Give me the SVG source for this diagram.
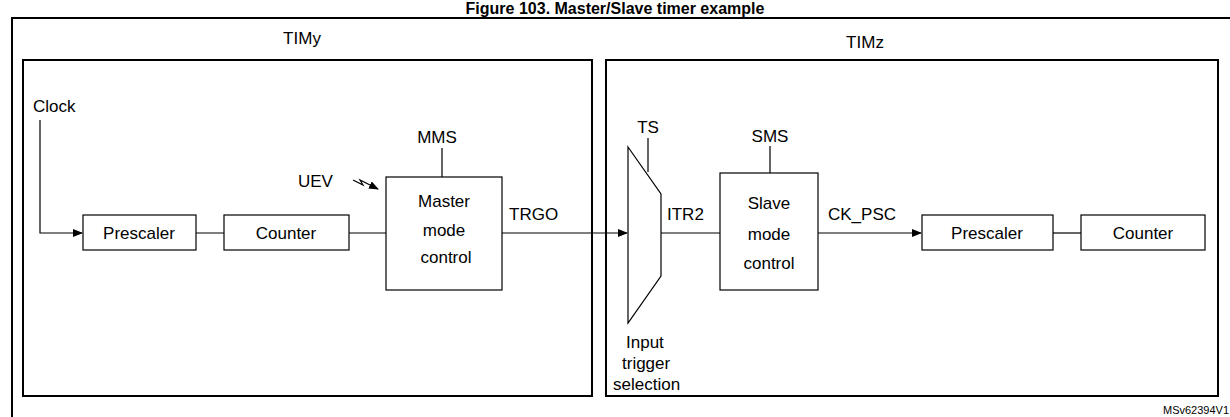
<svg xmlns="http://www.w3.org/2000/svg" width="1230" height="417" viewBox="0 0 1230 417">
<style>
text{font-family:"Liberation Sans",Arial,sans-serif;font-size:17px;fill:#000}
.b{fill:#fff;stroke:#000;stroke-width:1.2}
.f{fill:none;stroke:#000;stroke-width:2}
.l{fill:none;stroke:#000;stroke-width:1.2}
</style>
<defs><marker id="a" markerWidth="10" markerHeight="8" refX="9" refY="4" orient="auto" markerUnits="userSpaceOnUse"><path d="M0,0L10,4L0,8z"/></marker></defs>
<rect width="1230" height="417" fill="#fff"/>
<text x="615" y="14" text-anchor="middle" font-weight="bold" style="font-size:16px">Figure 103. Master/Slave timer example</text>
<rect class="f" x="12" y="18" width="1230" height="420"/>
<g id="timy"><rect class="f" x="23" y="60" width="569" height="336"/><text x="302" y="44" text-anchor="middle">TIMy</text></g>
<g id="timz"><rect class="f" x="606" y="60" width="612" height="336"/><text x="865" y="48" text-anchor="middle">TIMz</text></g>
<g id="connectors">
<path class="l" d="M40,120V233H82" marker-end="url(#a)"/>
<path class="l" d="M196,233H224M349,233H386M442,148V177M502,233H627" marker-end="url(#a)"/>
<path class="l" d="M648,138V172M661,233H720M770,146V173"/>
<path class="l" d="M818,233H921" marker-end="url(#a)"/>
<path class="l" d="M1053,233H1081"/>
<path class="l" d="M353,180l10,5l-3,-5l18,9" marker-end="url(#a)"/>
</g>
<g id="clock"><text x="33" y="112">Clock</text></g>
<g id="prescaler1"><rect class="b" x="83" y="215" width="113" height="35"/><text x="139" y="239" text-anchor="middle">Prescaler</text></g>
<g id="counter1"><rect class="b" x="224" y="215" width="125" height="35"/><text x="286" y="239" text-anchor="middle">Counter</text></g>
<g id="uev"><text x="298" y="187">UEV</text></g>
<g id="mms"><text x="437" y="143" text-anchor="middle">MMS</text></g>
<g id="master"><rect class="b" x="386" y="177" width="116" height="113"/><text x="444" y="207" text-anchor="middle">Master</text><text x="444" y="236" text-anchor="middle">mode</text><text x="446" y="263" text-anchor="middle">control</text></g>
<g id="trgo"><text x="509" y="220">TRGO</text></g>
<g id="mux"><path class="b" d="M628,147L661,194V276L628,323Z"/><text x="648" y="133" text-anchor="middle">TS</text><text x="626" y="348">Input</text><text x="622" y="369">trigger</text><text x="613" y="390">selection</text></g>
<g id="itr2"><text x="667" y="220">ITR2</text></g>
<g id="sms"><text x="770" y="142" text-anchor="middle">SMS</text></g>
<g id="slave"><rect class="b" x="720" y="173" width="98" height="117"/><text x="769" y="209" text-anchor="middle">Slave</text><text x="769" y="240" text-anchor="middle">mode</text><text x="769" y="269" text-anchor="middle">control</text></g>
<g id="ckpsc"><text x="828" y="220">CK_PSC</text></g>
<g id="prescaler2"><rect class="b" x="922" y="215" width="131" height="35"/><text x="987" y="239" text-anchor="middle">Prescaler</text></g>
<g id="counter2"><rect class="b" x="1081" y="215" width="124" height="35"/><text x="1143" y="239" text-anchor="middle">Counter</text></g>
<text x="1163" y="414" style="font-size:11px">MSv62394V1</text>
</svg>
